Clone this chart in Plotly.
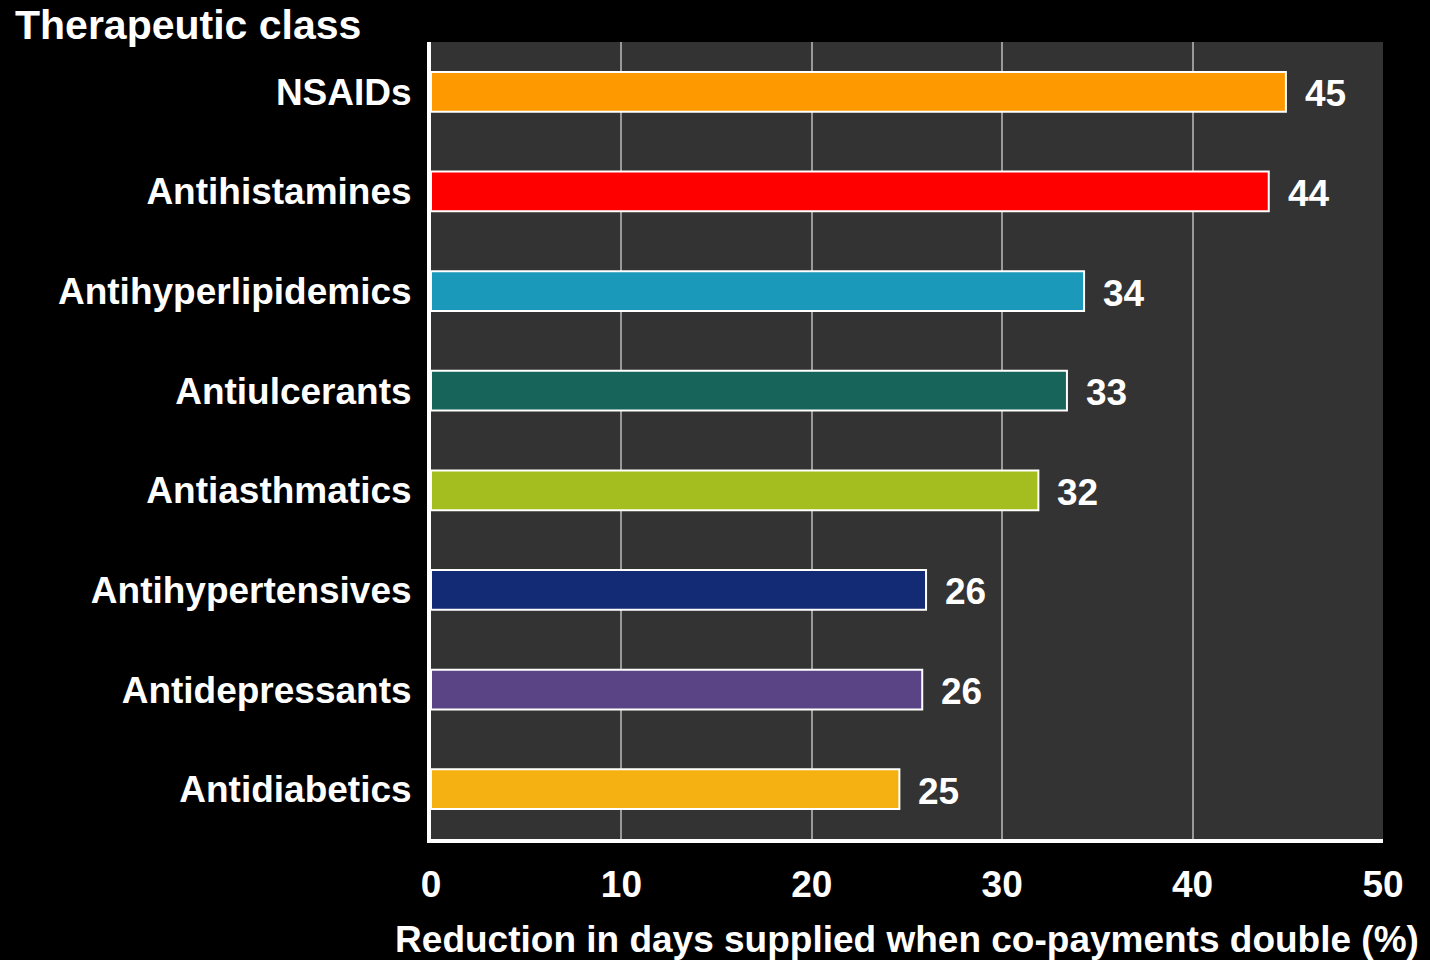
import plotly.graph_objects as go

categories = ["NSAIDs", "Antihistamines", "Antihyperlipidemics", "Antiulcerants",
              "Antiasthmatics", "Antihypertensives", "Antidepressants", "Antidiabetics"]
values = [44.9, 44.0, 34.3, 33.4, 31.9, 26.0, 25.8, 24.6]
labels = ["45", "44", "34", "33", "32", "26", "26", "25"]
colors = ["#FF9900", "#FF0000", "#1B99BA", "#17645A", "#A3BE1E", "#132A74", "#5A4486", "#F5B111"]

FONT = "Liberation Sans, Arial, sans-serif"
FS = 37

fig = go.Figure()
fig.add_trace(go.Bar(
    x=values, y=categories, orientation="h",
    marker=dict(color=colors, line=dict(color="white", width=2)),
    width=0.4, hoverinfo="skip",
))

for c, v, t in zip(categories, values, labels):
    fig.add_annotation(x=v, y=c, text=t, showarrow=False, xanchor="left",
                       xshift=17, yshift=-2,
                       font=dict(family=FONT, size=FS, color="white", weight="bold"))

fig.add_annotation(x=-0.438, y=1.051, xref="paper", yref="paper", text="Therapeutic class",
                   showarrow=False, xanchor="left", yanchor="top", borderpad=0,
                   font=dict(family=FONT, size=41, color="white", weight="bold"))

fig.update_layout(
    width=1430, height=960,
    paper_bgcolor="black", plot_bgcolor="#333333",
    margin=dict(l=431, r=47, t=42, b=121),
    showlegend=False,
    xaxis=dict(range=[0, 50], dtick=10, tick0=0, showgrid=True, gridcolor="#999999", gridwidth=2,
               zeroline=False, showline=True, linecolor="white", linewidth=4,
               ticks="", ticklabelstandoff=10, automargin=False,
               tickfont=dict(family=FONT, size=FS, color="white", weight="bold"),
               title=dict(text="Reduction in days supplied when co-payments double (%)", standoff=26,
                          font=dict(family=FONT, size=FS, color="white", weight="bold"))),
    yaxis=dict(categoryorder="array", categoryarray=categories, autorange="reversed",
               showgrid=False, zeroline=False, showline=True, linecolor="white", linewidth=4,
               ticks="", ticklabelstandoff=8, automargin=False,
               tickfont=dict(family=FONT, size=FS, color="white", weight="bold")),
)

fig.write_html("out.html", config={"displayModeBar": False},
               post_script="document.body.style.margin='0';document.body.style.background='black';")
